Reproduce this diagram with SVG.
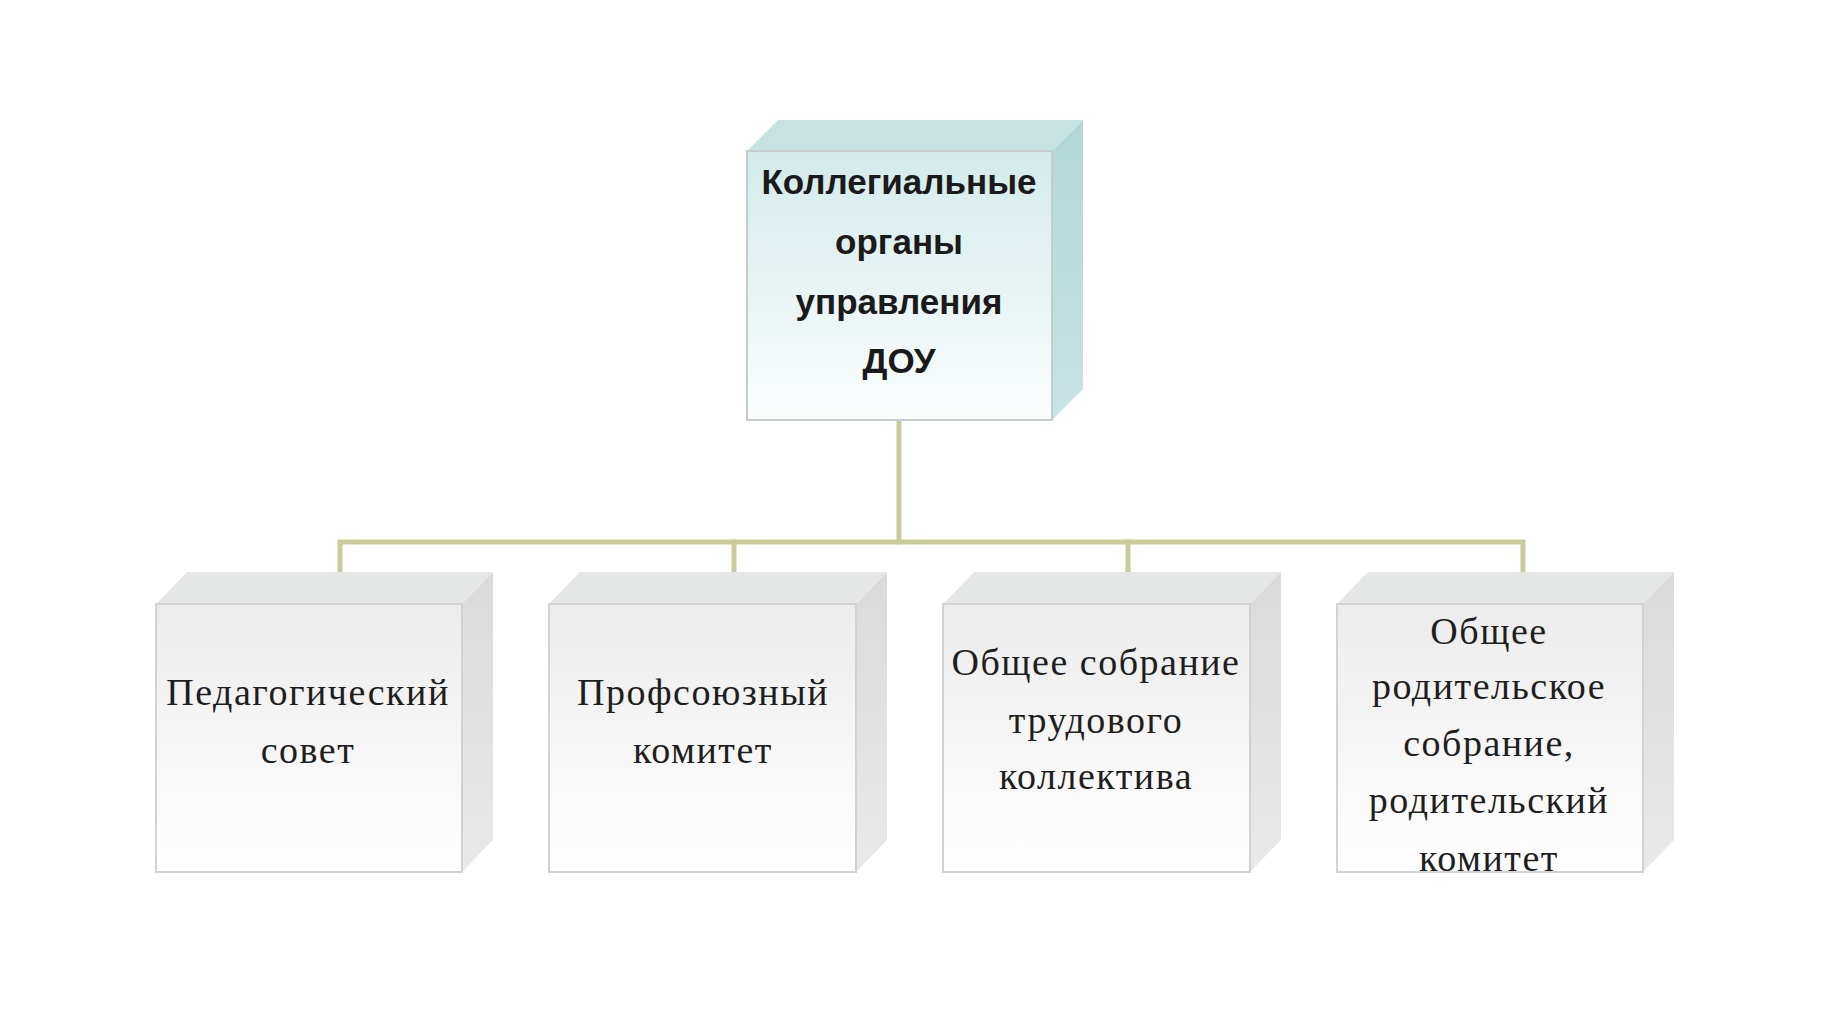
<svg xmlns="http://www.w3.org/2000/svg" width="1821" height="1024" viewBox="0 0 1821 1024">
<defs>
<linearGradient id="gTop" x1="0" y1="0" x2="0" y2="1">
<stop offset="0" stop-color="#d3ebeb"/>
<stop offset="1" stop-color="#fbfdfd"/>
</linearGradient>
<linearGradient id="gBot" x1="0" y1="0" x2="0" y2="1">
<stop offset="0" stop-color="#ececec"/>
<stop offset="1" stop-color="#ffffff"/>
</linearGradient>
<linearGradient id="gSideT" x1="0" y1="0" x2="0" y2="1">
<stop offset="0" stop-color="#b2d6d6"/>
<stop offset="1" stop-color="#c8e3e3"/>
</linearGradient>
<linearGradient id="gSideB" x1="0" y1="0" x2="0" y2="1">
<stop offset="0" stop-color="#dadada"/>
<stop offset="1" stop-color="#e9e9e9"/>
</linearGradient>
</defs>
<style>
.edge{fill:none;stroke:#c9cc98;stroke-width:5;stroke-linecap:square}
.ft{fill:url(#gTop);stroke:#c4cccc;stroke-width:2}
.tt{fill:#c6e2e1}
.st{fill:url(#gSideT)}
.fb{fill:url(#gBot);stroke:#d2d2d2;stroke-width:2}
.tb{fill:#e5e6e6}
.sb{fill:url(#gSideB)}
.hd{font-family:"Liberation Sans",Arial,sans-serif;font-weight:bold;font-size:35px;fill:#1a1a1a;text-anchor:middle}
.lb{font-family:"Liberation Serif","Times New Roman",serif;font-size:38px;fill:#1e1e1e;text-anchor:middle;letter-spacing:1.5px}
</style>
<rect width="1821" height="1024" fill="#ffffff"/>
<g id="connectors">
<path class="edge" d="M899 421 V542"/>
<path class="edge" d="M340 570 V542 H1523 V570"/>
<path class="edge" d="M734 542 V570"/>
<path class="edge" d="M1128 542 V570"/>
</g>
<g id="node-top">
<polygon class="tt" points="747,151 778,120 1083,120 1052,151"/>
<polygon class="st" points="1052,151 1083,120 1083,389 1052,420"/>
<rect class="ft" x="747" y="151" width="305" height="269"/>
<text class="hd" x="899" y="194">Коллегиальные</text>
<text class="hd" x="899" y="254">органы</text>
<text class="hd" x="899" y="314">управления</text>
<text class="hd" x="899" y="373">ДОУ</text>
</g>
<g id="node-1">
<polygon class="tb" points="156,604 187,572 493,572 462,604"/>
<polygon class="sb" points="462,604 493,572 493,840 462,872"/>
<rect class="fb" x="156" y="604" width="306" height="268"/>
<text class="lb" x="308" y="705">Педагогический</text>
<text class="lb" x="308" y="763">совет</text>
</g>
<g id="node-2">
<polygon class="tb" points="549,604 580,572 887,572 856,604"/>
<polygon class="sb" points="856,604 887,572 887,840 856,872"/>
<rect class="fb" x="549" y="604" width="307" height="268"/>
<text class="lb" x="703" y="705">Профсоюзный</text>
<text class="lb" x="703" y="763">комитет</text>
</g>
<g id="node-3">
<polygon class="tb" points="943,604 974,572 1281,572 1250,604"/>
<polygon class="sb" points="1250,604 1281,572 1281,840 1250,872"/>
<rect class="fb" x="943" y="604" width="307" height="268"/>
<text class="lb" x="1096" y="675">Общее собрание</text>
<text class="lb" x="1096" y="733">трудового</text>
<text class="lb" x="1096" y="789">коллектива</text>
</g>
<g id="node-4">
<polygon class="tb" points="1337,604 1368,572 1674,572 1643,604"/>
<polygon class="sb" points="1643,604 1674,572 1674,840 1643,872"/>
<rect class="fb" x="1337" y="604" width="306" height="268"/>
<text class="lb" x="1489" y="644">Общее</text>
<text class="lb" x="1489" y="699">родительское</text>
<text class="lb" x="1489" y="756">собрание,</text>
<text class="lb" x="1489" y="813">родительский</text>
<text class="lb" x="1489" y="871">комитет</text>
</g>
</svg>
